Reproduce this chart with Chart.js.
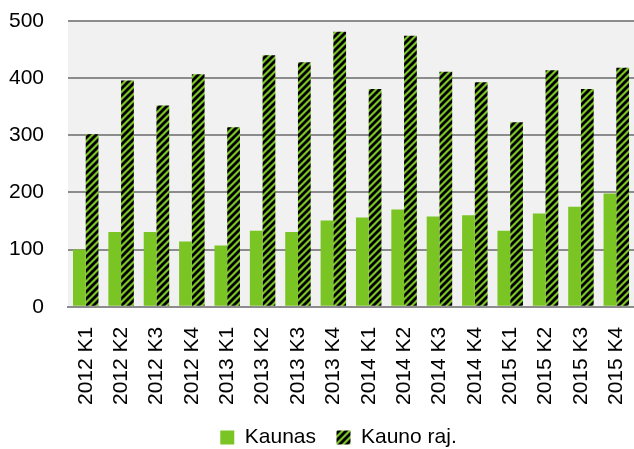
<!DOCTYPE html>
<html>
<head>
<meta charset="utf-8">
<script src="https://cdn.jsdelivr.net/npm/chart.js@4/dist/chart.umd.min.js"></script>
<style>
    html, body { margin: 0; padding: 0; background: #fff; }
    #wrap { width: 634px; height: 449px; }
</style>
</head>
<body>
<div id="wrap"><canvas id="plot"></canvas></div>
<script>
const quarters = ['2012 K1', '2012 K2', '2012 K3', '2012 K4',
    '2013 K1', '2013 K2', '2013 K3', '2013 K4',
    '2014 K1', '2014 K2', '2014 K3', '2014 K4',
    '2015 K1', '2015 K2', '2015 K3', '2015 K4'];
const kaunas = [100, 131, 131, 114, 107, 133, 131, 151, 156, 170, 158, 160, 133, 163, 175, 198];
const kaunoRaj = [302, 396, 352, 407, 314, 440, 428, 481, 381, 474, 411, 393, 323, 414, 381, 418];
const yTicks = [0, 100, 200, 300, 400, 500];

const green = '#7ac424';
const font = "'Liberation Sans', Arial, sans-serif";

function stripes() {
    const size = 7;
    const c = document.createElement('canvas');
    c.width = size;
    c.height = size;
    const ctx = c.getContext('2d');
    ctx.fillStyle = green;
    ctx.fillRect(0, 0, size, size);
    ctx.strokeStyle = '#000';
    ctx.lineWidth = 2.8;
    ctx.lineCap = 'square';
    for (let k = -1; k <= 1; k++) {
        ctx.beginPath();
        ctx.moveTo(k * size, size);
        ctx.lineTo(k * size + size, 0);
        ctx.stroke();
    }
    return document.getElementById('plot').getContext('2d').createPattern(c, 'repeat');
}

const plotBg = {
    id: 'plotBg',
    beforeDraw(chart) {
        const a = chart.chartArea;
        const ctx = chart.ctx;
        ctx.save();
        ctx.fillStyle = '#f1f1f1';
        ctx.fillRect(a.left, a.top, a.right - a.left, a.bottom - a.top);
        ctx.restore();
    }
};

// the original legend sits a bit right of the page centre
const legendShift = {
    id: 'legendShift',
    afterLayout(chart) {
        chart.legend.left += 24;
        chart.legend.right += 24;
    }
};

Chart.defaults.font.family = font;
Chart.defaults.color = '#000';

new Chart('plot', {
    type: 'bar',
    data: {
        labels: quarters,
        datasets: [{
            label: 'Kaunas',
            data: kaunas,
            backgroundColor: green
        }, {
            label: 'Kauno raj.',
            data: kaunoRaj,
            backgroundColor: stripes()
        }]
    },
    options: {
        responsive: true,
        maintainAspectRatio: false,
        animation: false,
        datasets: {
            bar: { barPercentage: 1, categoryPercentage: 0.72 }
        },
        // plot runs a little past the right edge, like the original
        layout: { padding: { left: -15, right: -10, top: 21, bottom: -9 } },
        plugins: {
            tooltip: { enabled: false },
            legend: {
                position: 'bottom',
                labels: {
                    font: { size: 21 },
                    boxWidth: 14,
                    boxHeight: 14,
                    padding: 3,
                    generateLabels(chart) {
                        const items = Chart.defaults.plugins.legend.labels.generateLabels(chart);
                        items[0].text += '   ';
                        return items;
                    }
                }
            }
        },
        scales: {
            x: {
                grid: { display: false },
                border: { display: true, color: '#8c8c8c', width: 2 },
                afterFit(s) {
                    s.paddingRight = 0;
                    s.paddingLeft = 0;
                    s.height += 7;
                },
                ticks: {
                    font: { size: 21 },
                    minRotation: 90,
                    maxRotation: 90,
                    padding: 12,
                    autoSkip: false
                }
            },
            y: {
                min: 0,
                max: 500,
                afterBuildTicks(axis) {
                    axis.ticks = yTicks.map(v => ({ value: v }));
                },
                afterFit(s) {
                    s.paddingTop = 0;
                    s.paddingBottom = 0;
                },
                grid: { color: '#8c8c8c', lineWidth: 2, drawTicks: false },
                border: { display: false },
                ticks: { font: { size: 21 }, padding: 24 }
            }
        }
    },
    plugins: [plotBg, legendShift]
});
</script>
</body>
</html>
